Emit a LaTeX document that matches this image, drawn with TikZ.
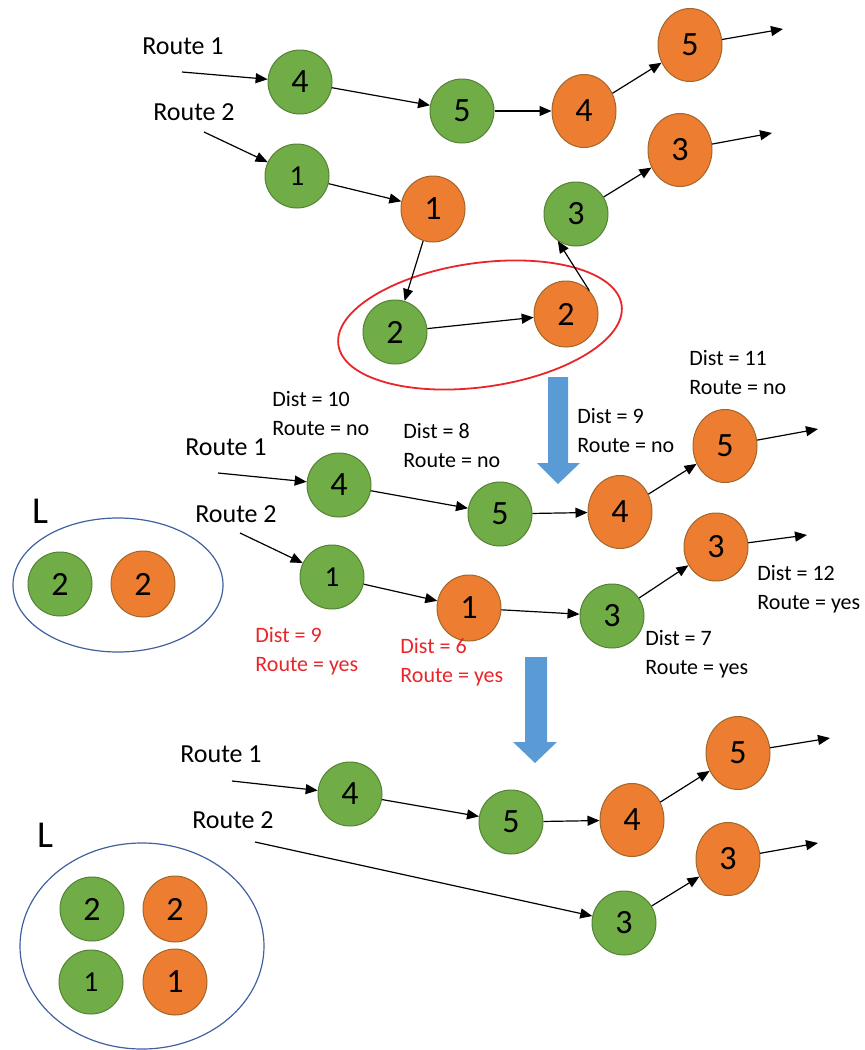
\documentclass[tikz,border=0pt]{standalone}
\usepackage{fontspec}
\setmainfont{Carlito}
\usetikzlibrary{arrows.meta,shapes.geometric}
\definecolor{verdeF}{HTML}{70AD47}
\definecolor{verdeB}{HTML}{548235}
\definecolor{naranjaF}{HTML}{ED7D31}
\definecolor{naranjaB}{HTML}{A0662A}
\definecolor{azul}{HTML}{5B9BD5}
\definecolor{rojo}{HTML}{E8262A}
\definecolor{azulL}{HTML}{41609F}
\begin{document}
\begin{tikzpicture}[x=0.5pt,y=-0.5pt,
    verde/.style={circle,fill=verdeF,draw=verdeB,line width=0.5pt,minimum size=32pt,inner sep=0pt,font=\fontsize{17}{17}\selectfont},
    naranja/.style={ellipse,fill=naranjaF,draw=naranjaB,line width=0.5pt,minimum width=32pt,minimum height=33pt,inner sep=0pt,font=\fontsize{17}{17}\selectfont},
    alto/.style={minimum height=36.5pt},
    uno/.style={font=\fontsize{14.5}{14.5}\selectfont},
    ruta/.style={font=\fontsize{13}{13}\selectfont},
    dist/.style={anchor=west,align=left,inner sep=0pt,font=\fontsize{11}{14.5}\selectfont},
    flecha/.style={-{Triangle[length=6pt,width=5pt]},line width=0.6pt}]
    \useasboundingbox (0,0) rectangle (865,1050);

    % primera fila
    \node[ruta] (ruta1a) at (183,46) {Route 1};
    \node[ruta] (ruta2a) at (194,112) {Route 2};
    \coordinate (r1a) at (182,72);
    \coordinate (r2a) at (204,132);
    \node[verde] (ver4a) at (300,82) {4};
    \node[verde] (ver5a) at (462,111) {5};
    \node[naranja,alto] (nar4a) at (584,111) {4};
    \node[naranja,alto] (nar5a) at (690,45) {5};
    \coordinate (fin5a) at (783,29);
    \node[verde,uno] (ver1a) at (297,176) {1};
    \node[naranja] (nar1a) at (433,209) {1};
    \node[verde] (ver2a) at (395,332) {2};
    \node[naranja] (nar2a) at (566,314) {2};
    \node[verde] (ver3a) at (576,214) {3};
    \node[naranja,alto] (nar3a) at (680,150) {3};
    \coordinate (fin3a) at (772,133);
    \draw[rojo,line width=0.9pt,rotate around={8:(480,325)}] (480,325) ellipse [x radius=143,y radius=62];
    \draw[flecha] (r1a) -- (ver4a);
    \draw[flecha] (ver4a) -- (ver5a);
    \draw[flecha] (ver5a) -- (nar4a);
    \draw[flecha] (nar4a) -- (nar5a);
    \draw[flecha] (nar5a) -- (fin5a);
    \draw[flecha] (r2a) -- (ver1a);
    \draw[flecha] (ver1a) -- (nar1a);
    \draw[flecha] (nar1a) -- (ver2a);
    \draw[flecha] (ver2a) -- (nar2a);
    \draw[flecha] (nar2a.45) -- (ver3a.236);
    \draw[flecha] (ver3a) -- (nar3a);
    \draw[flecha] (nar3a) -- (fin3a);

    \fill[azul] (548,377) -- (568,377) -- (568,463) -- (580,463) -- (558,484) -- (537,463) -- (548,463) -- cycle;

    % segunda fila
    \node[ruta] (ruta1b) at (226,447) {Route 1};
    \node[ruta] (ruta2b) at (236,514) {Route 2};
    \coordinate (r1b) at (218,473);
    \coordinate (r2b) at (240,533);
    \node[verde] (ver4b) at (339,485) {4};
    \node[verde] (ver5b) at (500,514) {5};
    \node[naranja,alto] (nar4b) at (620,512) {4};
    \node[naranja,alto] (nar5b) at (725,446) {5};
    \coordinate (fin5b) at (818,429);
    \node[verde,uno] (ver1b) at (332,577) {1};
    \node[naranja] (nar1b) at (469,608) {1};
    \node[verde] (ver3b) at (612,616) {3};
    \node[naranja,minimum height=34pt] (nar3b) at (716,547) {3};
    \coordinate (fin3b) at (807,535);
    \draw[flecha] (r1b) -- (ver4b);
    \draw[flecha] (ver4b) -- (ver5b);
    \draw[flecha] (ver5b) -- (nar4b);
    \draw[flecha] (nar4b) -- (nar5b);
    \draw[flecha] (nar5b) -- (fin5b);
    \draw[flecha] (r2b) -- (ver1b);
    \draw[flecha] (ver1b) -- (nar1b);
    \draw[flecha] (nar1b) -- (ver3b);
    \draw[flecha] (ver3b) -- (nar3b);
    \draw[flecha] (nar3b) -- (fin3b);
    \node[dist] (d10) at (272,414) {Dist = 10\\Route = no};
    \node[dist] (d8) at (403,446) {Dist = 8\\Route = no};
    \node[dist] (d9) at (577,431) {Dist = 9\\Route = no};
    \node[dist] (d11) at (689,373) {Dist = 11\\Route = no};
    \node[dist] (d12) at (757,589) {Dist = 12\\Route = yes};
    \node[dist] (d7) at (645,654) {Dist = 7\\Route = yes};
    \node[dist,text=rojo] (d9r) at (255,651) {Dist = 9\\Route = yes};
    \node[dist,text=rojo] (d6r) at (400,662) {Dist = 6\\Route = yes};
    \node[font=\fontsize{19}{19}\selectfont] (listaB) at (40,511) {L};
    \draw[azulL,line width=0.6pt] (118,585) ellipse [x radius=105,y radius=67];
    \node[verde] (ver2L) at (60,584) {2};
    \node[naranja] (nar2L) at (143,584) {2};

    \fill[azul] (525,657) -- (547,657) -- (547,742) -- (557,742) -- (535,763) -- (513,742) -- (525,742) -- cycle;

    % tercera fila
    \node[ruta] (ruta1c) at (221,754) {Route 1};
    \node[ruta] (ruta2c) at (233,820) {Route 2};
    \coordinate (r1c) at (232,781);
    \coordinate (r2c) at (255,842);
    \node[verde] (ver4c) at (350,794) {4};
    \node[verde] (ver5c) at (511,822) {5};
    \node[naranja,alto] (nar4c) at (632,820) {4};
    \node[naranja,alto] (nar5c) at (738,753) {5};
    \coordinate (fin5c) at (830,738);
    \node[verde] (ver3c) at (624,923) {3};
    \node[naranja,alto] (nar3c) at (728,859) {3};
    \coordinate (fin3c) at (818,843);
    \draw[flecha] (r1c) -- (ver4c);
    \draw[flecha] (ver4c) -- (ver5c);
    \draw[flecha] (ver5c) -- (nar4c);
    \draw[flecha] (nar4c) -- (nar5c);
    \draw[flecha] (nar5c) -- (fin5c);
    \draw[flecha] (r2c) -- (ver3c);
    \draw[flecha] (ver3c) -- (nar3c);
    \draw[flecha] (nar3c) -- (fin3c);
    \node[font=\fontsize{19}{19}\selectfont] (listaC) at (45,835) {L};
    \draw[azulL,line width=0.6pt] (142,946) ellipse [x radius=122,y radius=103];
    \node[verde] (ver2L2) at (92,909) {2};
    \node[naranja] (nar2L2) at (175,909) {2};
    \node[verde,uno] (ver1L2) at (91,982) {1};
    \node[naranja] (nar1L2) at (175,982) {1};
\end{tikzpicture}
\end{document}
